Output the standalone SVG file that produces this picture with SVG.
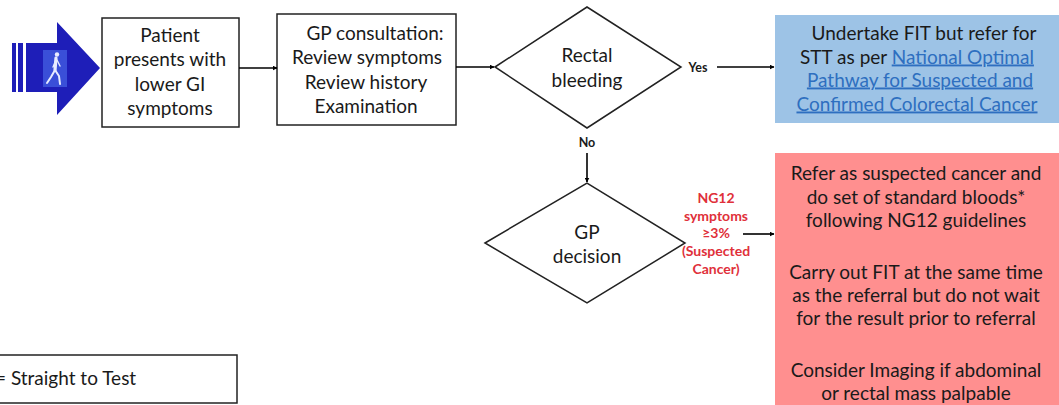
<svg xmlns="http://www.w3.org/2000/svg" width="1059" height="405" viewBox="0 0 1059 405">
<defs>
<marker id="ah" viewBox="0 0 10 10" refX="9" refY="5" markerWidth="5" markerHeight="5" orient="auto" markerUnits="userSpaceOnUse">
<path d="M0,0 L10,5 L0,10 z" fill="#000"/>
</marker>
<style>
.box{fill:#fff;stroke:#222;stroke-width:1.5}
.t{font-family:Lato,"Liberation Sans",sans-serif;font-size:19px;fill:#1a1a1a;text-anchor:middle}
.lbl{font-family:Lato,"Liberation Sans",sans-serif;font-size:12.5px;font-weight:bold;fill:#1a1a1a;text-anchor:middle}
.red{font-family:Lato,"Liberation Sans",sans-serif;font-size:14px;font-weight:bold;fill:#e0303a;text-anchor:middle}
.link{fill:#2e6fc0;text-decoration:underline}
.con{stroke:#000;stroke-width:1.6;fill:none;marker-end:url(#ah)}
</style>
</defs>
<rect width="1059" height="405" fill="#fff"/>

<g id="start-arrow">
<rect x="12" y="43" width="4" height="49" fill="#1e1eb8"/>
<rect x="18" y="43" width="5" height="49" fill="#1e1eb8"/>
<path d="M26,43 L57,43 L57,22 L100,68 L57,115 L57,92 L26,92 z" fill="#1e1eb8"/>
<rect x="43" y="50" width="24" height="37" fill="#3a4fd8"/>
<g fill="#e8ecff" stroke="#e8ecff" stroke-linecap="round">
<circle cx="57" cy="54.5" r="2.2" stroke="none"/>
<path d="M56,58 L55,70" stroke-width="3.2"/>
<path d="M55,70 L59,76 L60,84" stroke-width="2" fill="none"/>
<path d="M55,70 L51,77 L47,83" stroke-width="2" fill="none"/>
<path d="M56,60 L53,67" stroke-width="1.4" fill="none"/>
<path d="M57,60 L60,66" stroke-width="1.4" fill="none"/>
</g>
</g>

<g id="patient">
<rect class="box" x="102" y="18" width="137" height="109"/>
<text class="t" x="170" y="41.5">Patient</text>
<text class="t" x="170" y="66">presents with</text>
<text class="t" x="170" y="90.5">lower GI</text>
<text class="t" x="170" y="115">symptoms</text>
</g>

<g id="gp-consult">
<rect class="box" x="277" y="14" width="179" height="111"/>
<text class="t" x="375" y="39.5">GP consultation:</text>
<text class="t" x="367" y="64">Review symptoms</text>
<text class="t" x="366" y="88.5">Review history</text>
<text class="t" x="366" y="112.5">Examination</text>
</g>

<g id="rectal-bleeding">
<polygon class="box" points="495,67 587,7 681,67 587,128"/>
<text class="t" x="587" y="61.5">Rectal</text>
<text class="t" x="587" y="86.5">bleeding</text>
</g>

<g id="fit-stt">
<rect x="775" y="15" width="284" height="108" fill="#9dc3e6"/>
<text class="t" x="924" y="39.5">Undertake FIT but refer for</text>
<text class="t" x="917" y="63.5">STT as per <tspan class="link">National Optimal</tspan></text>
<text class="t" x="920" y="86.5"><tspan class="link">Pathway for Suspected and</tspan></text>
<text class="t" x="917" y="110.5"><tspan class="link">Confirmed Colorectal Cancer</tspan></text>
</g>

<g id="gp-decision">
<polygon class="box" points="485,243 587,183 685,243 587,303"/>
<text class="t" x="587" y="238.5">GP</text>
<text class="t" x="587" y="262.5">decision</text>
</g>

<g id="suspected-cancer">
<rect x="775" y="153" width="284" height="260" fill="#ff8f8f"/>
<text class="t" x="916" y="179.5">Refer as suspected cancer and</text>
<text class="t" x="916" y="203.5">do set of standard bloods*</text>
<text class="t" x="916" y="226.5">following NG12 guidelines</text>
<text class="t" x="916" y="278.5">Carry out FIT at the same time</text>
<text class="t" x="916" y="301.5">as the referral but do not wait</text>
<text class="t" x="916" y="324.5">for the result prior to referral</text>
<text class="t" x="916" y="376.5">Consider Imaging if abdominal</text>
<text class="t" x="916" y="399.5">or rectal mass palpable</text>
</g>

<g id="legend">
<rect class="box" x="-5" y="355" width="242" height="48"/>
<text x="-5" y="385" font-family="Lato,'Liberation Sans',sans-serif" font-size="19" fill="#1a1a1a">= Straight to Test</text>
</g>

<g id="connectors">
<line class="con" x1="239" y1="68" x2="277" y2="68"/>
<line class="con" x1="456" y1="67" x2="494" y2="67"/>
<line class="con" x1="717" y1="67" x2="774" y2="67"/>
<line class="con" x1="587" y1="153" x2="587" y2="182"/>
<line class="con" x1="743" y1="234" x2="774" y2="234"/>
<text class="lbl" x="698" y="71.5">Yes</text>
<text class="lbl" x="587" y="146.5">No</text>
<text class="red" x="716" y="203">NG12</text>
<text class="red" x="716" y="221">symptoms</text>
<text class="red" x="716" y="238">≥3%</text>
<text class="red" x="716" y="256">(Suspected</text>
<text class="red" x="716" y="274">Cancer)</text>
</g>
</svg>
